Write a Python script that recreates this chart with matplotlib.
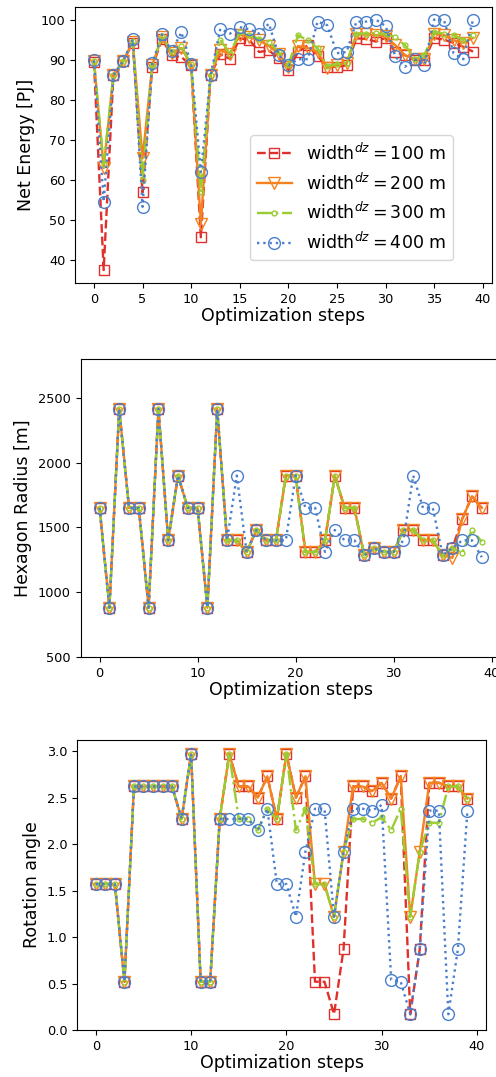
import matplotlib.pyplot as plt

steps = list(range(40))
labels = [r"width$^{dz} = 100$ m", r"width$^{dz} = 200$ m",
          r"width$^{dz} = 300$ m", r"width$^{dz} = 400$ m"]

# Net energy per optimization step [PJ]
energy_100 = [89.6, 37.5, 86.2, 89.7, 94.2, 56.9, 88.3, 95.2, 91.2, 90.7,
              88.7, 45.7, 86.2, 91.4, 90.3, 95.4, 95.0, 92.0, 92.4, 90.4,
              87.5, 92.0, 93.7, 91.0, 88.3, 88.3, 88.7, 95.4, 95.3, 94.6,
              95.5, 92.0, 91.2, 90.0, 90.0, 95.5, 95.1, 94.3, 93.3, 92.1]
energy_200 = [89.8, 63.0, 86.2, 89.7, 94.6, 65.4, 88.7, 95.7, 91.8, 93.0,
              88.8, 49.0, 86.2, 92.5, 91.5, 96.3, 95.7, 94.9, 93.5, 91.6,
              88.3, 93.5, 93.0, 92.0, 88.0, 88.7, 89.2, 96.4, 96.4, 96.2,
              96.0, 93.7, 91.2, 90.3, 90.3, 96.6, 96.3, 94.9, 94.3, 95.5]
energy_300 = [89.8, 64.0, 86.2, 89.7, 94.8, 60.0, 88.8, 96.0, 92.0, 93.5,
              88.9, 57.0, 86.2, 95.0, 91.6, 97.0, 96.2, 95.3, 94.6, 92.0,
              88.7, 96.2, 94.9, 93.0, 88.5, 89.0, 89.2, 96.6, 96.6, 96.7,
              96.5, 95.7, 93.7, 90.3, 91.2, 97.0, 96.6, 96.2, 95.0, 96.2]
energy_400 = [89.9, 54.6, 86.2, 89.7, 95.2, 53.3, 89.2, 96.4, 92.2, 96.9,
              89.0, 62.0, 86.2, 97.8, 96.6, 98.2, 97.7, 96.6, 99.1, 91.2,
              88.7, 90.2, 90.2, 99.6, 98.7, 91.7, 92.0, 99.6, 99.6, 100.1,
              98.5, 90.9, 88.3, 90.2, 88.8, 100.1, 100.1, 91.7, 90.2, 100.1]

# Hexagon radius per optimization step [m]
radius_100 = [1650, 880, 2415, 1650, 1650, 880, 2415, 1400, 1900, 1650,
              1650, 880, 2415, 1400, 1400, 1310, 1480, 1400, 1400, 1900,
              1900, 1310, 1310, 1400, 1900, 1650, 1650, 1285, 1340, 1310,
              1310, 1480, 1480, 1400, 1400, 1285, 1340, 1565, 1740, 1650]
radius_200 = [1650, 880, 2415, 1650, 1650, 880, 2415, 1400, 1900, 1650,
              1650, 880, 2415, 1400, 1400, 1310, 1480, 1400, 1400, 1900,
              1900, 1310, 1310, 1400, 1900, 1650, 1650, 1285, 1340, 1310,
              1310, 1480, 1480, 1400, 1400, 1285, 1265, 1565, 1740, 1650]
radius_300 = [1650, 880, 2415, 1650, 1650, 880, 2415, 1400, 1900, 1650,
              1650, 880, 2415, 1400, 1400, 1310, 1480, 1400, 1400, 1900,
              1900, 1310, 1310, 1400, 1900, 1650, 1650, 1285, 1340, 1310,
              1310, 1480, 1480, 1400, 1400, 1285, 1340, 1305, 1480, 1390]
radius_400 = [1650, 880, 2415, 1650, 1650, 880, 2415, 1400, 1900, 1650,
              1650, 880, 2415, 1400, 1900, 1310, 1480, 1400, 1400, 1400,
              1900, 1650, 1650, 1310, 1480, 1400, 1400, 1285, 1340, 1310,
              1310, 1400, 1900, 1650, 1650, 1285, 1340, 1400, 1400, 1270]

# Rotation angle per optimization step [rad]
angle_100 = [1.57, 1.57, 1.57, 0.52, 2.62, 2.62, 2.62, 2.62, 2.62, 2.27,
             2.97, 0.52, 0.52, 2.27, 2.97, 2.62, 2.62, 2.50, 2.73, 2.27,
             2.97, 2.50, 2.73, 0.52, 0.52, 0.17, 0.87, 2.62, 2.62, 2.57,
             2.66, 2.49, 2.73, 0.17, 0.87, 2.66, 2.66, 2.62, 2.62, 2.49]
angle_200 = [1.57, 1.57, 1.57, 0.52, 2.62, 2.62, 2.62, 2.62, 2.62, 2.27,
             2.97, 0.52, 0.52, 2.27, 2.97, 2.62, 2.62, 2.50, 2.73, 2.27,
             2.97, 2.50, 2.73, 1.57, 1.57, 1.22, 1.92, 2.62, 2.62, 2.57,
             2.66, 2.49, 2.73, 1.22, 1.92, 2.66, 2.66, 2.62, 2.62, 2.49]
angle_300 = [1.57, 1.57, 1.57, 0.52, 2.62, 2.62, 2.62, 2.62, 2.62, 2.27,
             2.97, 0.52, 0.52, 2.27, 2.97, 2.27, 2.27, 2.15, 2.38, 2.27,
             2.97, 2.15, 2.38, 1.57, 1.57, 1.22, 1.92, 2.27, 2.27, 2.23,
             2.29, 2.15, 2.38, 1.22, 1.92, 2.23, 2.23, 2.62, 2.62, 2.49]
angle_400 = [1.57, 1.57, 1.57, 0.52, 2.62, 2.62, 2.62, 2.62, 2.62, 2.27,
             2.97, 0.52, 0.52, 2.27, 2.27, 2.27, 2.27, 2.15, 2.38, 1.57,
             1.57, 1.22, 1.92, 2.38, 2.38, 1.22, 1.92, 2.38, 2.38, 2.36,
             2.42, 0.54, 0.52, 0.17, 0.87, 2.36, 2.36, 0.17, 0.87, 2.36]

styles = [
    dict(color="#e0302c", ls="--", marker="s", ms=7.5),
    dict(color="#f5821f", ls="-", marker="v", ms=8),
    dict(color="#9acd32", ls="-.", marker="o", ms=3.5),
    dict(color="#4a7fcb", ls=":", marker="o", ms=8.5),
]


def draw_series(ax, series):
    for vals, st, lab in zip(series, styles, labels):
        ax.plot(steps, vals, color=st["color"], ls=st["ls"], lw=1.7,
                marker=st["marker"], ms=st["ms"], mfc="none", mew=1.0,
                label=lab)
    ax.set_xlim(-1.95, 40.95)
    ax.set_xticks([0, 5, 10, 15, 20, 25, 30, 35, 40])
    ax.tick_params(labelsize=9.3)
    ax.set_xlabel("Optimization steps", fontsize=12.5, labelpad=1)


fig = plt.figure(figsize=(4.96, 10.77), dpi=100)

# Net energy
ax1 = fig.add_axes([0.1512, 0.7372, 0.8407, 0.2563])
draw_series(ax1, [energy_100, energy_200, energy_300, energy_400])
ax1.set_ylim(34.25, 103.25)
ax1.set_ylabel("Net Energy [PJ]", fontsize=12.5)
ax1.legend(fontsize=12.5, loc="lower right", bbox_to_anchor=(0.906, 0.083),
           borderaxespad=0)

# Hexagon radius
ax2 = fig.add_axes([0.1623, 0.39, 0.8476, 0.2767])
draw_series(ax2, [radius_100, radius_200, radius_300, radius_400])
ax2.set_xticks([0, 10, 20, 30, 40])
ax2.set_ylim(500, 2800)
ax2.set_ylabel("Hexagon Radius [m]", fontsize=12.5)

# Rotation angle
ax3 = fig.add_axes([0.1558, 0.0436, 0.824, 0.2693])
draw_series(ax3, [angle_100, angle_200, angle_300, angle_400])
ax3.set_xticks([0, 10, 20, 30, 40])
ax3.set_ylim(0, 3.12)
ax3.set_ylabel("Rotation angle", fontsize=12.5)

plt.savefig("out.png", dpi=100)
plt.close()
